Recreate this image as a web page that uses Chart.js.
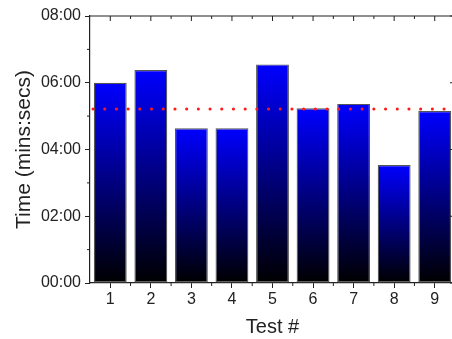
<!DOCTYPE html>
<html lang="en">
<head>
<meta charset="UTF-8">
<title>Test times</title>
<script src="https://cdn.jsdelivr.net/npm/chart.js"></script>
<style>
    html, body {
        margin: 0;
        padding: 0;
        background: #fff;
        overflow: hidden;
    }
    #wrap {
        width: 456px;
        height: 339px;
    }
</style>
</head>
<body>
<div id="wrap"><canvas id="myChart"></canvas></div>

<script>
    // data (seconds)
    var tests = ['1', '2', '3', '4', '5', '6', '7', '8', '9'];
    var times = [360, 383, 278, 278, 393, 314, 322, 212, 309];
    var average = 313;
    var yTicks = [0, 120, 240, 360, 480];

    function fmt(s) {
        var m = Math.floor(s / 60), sec = s % 60;
        return String(m).padStart(2, '0') + ':' + String(sec).padStart(2, '0');
    }

    function barGradient(context) {
        var chart = context.chart;
        var y = chart.scales.y;
        if (!y || context.raw === undefined) return '#0000ff';
        var top = y.getPixelForValue(context.raw);
        var bottom = y.getPixelForValue(0);
        if (!isFinite(top) || !isFinite(bottom) || top === bottom) return '#0000ff';
        var g = chart.ctx.createLinearGradient(0, top, 0, bottom);
        g.addColorStop(0, '#0000ff');
        g.addColorStop(1, '#000000');
        return g;
    }

    // frame, minor ticks, top/right ticks and the average line
    var framePlugin = {
        id: 'frame',
        afterDatasetsDraw: function (chart) {
            var ctx = chart.ctx, a = chart.chartArea;
            var x = chart.scales.x, y = chart.scales.y;
            ctx.save();

            // average dotted line
            var ay = y.getPixelForValue(average);
            ctx.strokeStyle = '#ff1a1a';
            ctx.lineWidth = 3;
            ctx.lineCap = 'round';
            ctx.setLineDash([0.1, 11.6]);
            ctx.beginPath();
            ctx.moveTo(a.left + 3, ay);
            ctx.lineTo(a.right, ay);
            ctx.stroke();
            ctx.setLineDash([]);
            ctx.lineCap = 'butt';

            ctx.strokeStyle = '#222';
            ctx.lineWidth = 1.2;
            ctx.beginPath();
            ctx.moveTo(a.left, a.top);
            ctx.lineTo(a.right, a.top);
            ctx.moveTo(a.right, a.top);
            ctx.lineTo(a.right, a.bottom);
            ctx.stroke();

            ctx.lineWidth = 1;
            ctx.beginPath();
            var i, px, py;
            // x ticks: centres major, boundaries minor
            for (i = 0; i < tests.length; i++) {
                px = x.getPixelForValue(i);
                ctx.moveTo(px, a.top);
                ctx.lineTo(px, a.top + 5);
                if (i > 0) {
                    var bx = (px + x.getPixelForValue(i - 1)) / 2;
                    ctx.moveTo(bx, a.top);
                    ctx.lineTo(bx, a.top + 3);
                    ctx.moveTo(bx, a.bottom);
                    ctx.lineTo(bx, a.bottom + 3);
                }
            }
            // y minor ticks and right side ticks
            for (var v = 0; v <= 480; v += 60) {
                py = y.getPixelForValue(v);
                var major = v % 120 === 0;
                if (!major) {
                    ctx.moveTo(a.left, py);
                    ctx.lineTo(a.left - 3, py);
                }
                ctx.moveTo(a.right, py);
                ctx.lineTo(a.right - (major ? 5 : 3), py);
            }
            ctx.stroke();
            ctx.restore();
        }
    };

    var ctx = document.getElementById('myChart').getContext('2d');
    var myChart = new Chart(ctx, {
        type: 'bar',
        data: {
            labels: tests,
            datasets: [{
                label: 'Time',
                data: times,
                backgroundColor: barGradient,
                borderColor: '#555',
                borderWidth: 1.2,
                borderSkipped: false,
                barPercentage: 0.81,
                categoryPercentage: 1.0
            }]
        },
        options: {
            responsive: true,
            maintainAspectRatio: false,
            animation: false,
            layout: {
                padding: { top: 16, right: 1, left: 0, bottom: 0 }
            },
            plugins: {
                legend: { display: false },
                tooltip: { enabled: false }
            },
            scales: {
                x: {
                    offset: true,
                    border: { display: true, color: '#222', width: 1.2 },
                    grid: {
                        display: true,
                        drawOnChartArea: false,
                        offset: false,
                        tickLength: 5,
                        tickColor: '#222'
                    },
                    ticks: {
                        color: '#222',
                        font: { family: 'Liberation Sans, Arial', size: 16 },
                        padding: 2,
                        maxRotation: 0
                    },
                    title: {
                        display: true,
                        text: 'Test #',
                        color: '#222',
                        font: { family: 'Liberation Sans, Arial', size: 20 },
                        padding: { top: 4, bottom: 0 }
                    },
                    afterFit: function (scale) { scale.height = 56; }
                },
                y: {
                    min: 0,
                    max: 480,
                    afterBuildTicks: function (scale) {
                        scale.ticks = yTicks.map(function (v) { return { value: v }; });
                    },
                    border: { display: true, color: '#222', width: 1.2 },
                    grid: {
                        display: true,
                        drawOnChartArea: false,
                        tickLength: 5,
                        tickColor: '#222'
                    },
                    ticks: {
                        color: '#222',
                        font: { family: 'Liberation Sans, Arial', size: 16 },
                        padding: 4,
                        callback: function (v) { return fmt(v); }
                    },
                    title: {
                        display: true,
                        text: 'Time (mins:secs)',
                        color: '#222',
                        font: { family: 'Liberation Sans, Arial', size: 21 },
                        padding: { top: 12, bottom: 0 }
                    },
                    afterFit: function (scale) { scale.width = 90; }
                }
            }
        },
        plugins: [framePlugin]
    });
</script>
</body>
</html>
